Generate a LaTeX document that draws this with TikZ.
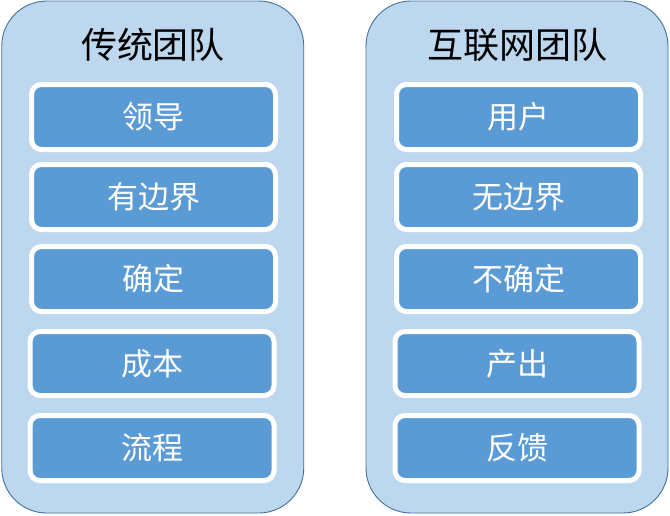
\documentclass[tikz,border=0pt]{standalone}
\usepackage{fontspec}
\newfontfamily\cjk{Noto Sans CJK SC}
\definecolor{outerfill}{HTML}{BDD7EE}
\definecolor{outerline}{HTML}{41719C}
\definecolor{boxfill}{HTML}{5B9BD5}
\begin{document}
\begin{tikzpicture}[x=1pt,y=-1pt,
  panel/.style={draw=outerline, fill=outerfill, line width=0.9pt, rounded corners=45pt, inner sep=0pt, minimum width=302pt, minimum height=512pt},
  title/.style={font=\cjk\fontsize{36}{40}\selectfont, text=black, inner sep=0pt},
  item/.style={draw=white, fill=boxfill, line width=5pt, rounded corners=10pt, inner sep=0pt, minimum width=244pt, minimum height=65pt, font=\cjk\fontsize{31}{34}\selectfont, text=white}]
\useasboundingbox (0,0) rectangle (670,515);
\node[panel] (L) at (152.75,257) {};
\node[panel] (R) at (517,257) {};
\node[title] (Lt) at (153,45) {传统团队};
\node[title] (Rt) at (517,45) {互联网团队};
\node[item] (l1) at (153.5,117) {领导};
\node[item] (l2) at (153.5,197) {有边界};
\node[item] (l3) at (153.5,279) {确定};
\node[item,minimum height=64pt] (l4) at (152,363.5) {成本};
\node[item] (l5) at (152,448) {流程};
\node[item] (r1) at (518.5,117) {用户};
\node[item] (r2) at (518.5,197) {无边界};
\node[item] (r3) at (518.5,279) {不确定};
\node[item,minimum height=64pt] (r4) at (517,363.5) {产出};
\node[item] (r5) at (517,448) {反馈};
\end{tikzpicture}
\end{document}
